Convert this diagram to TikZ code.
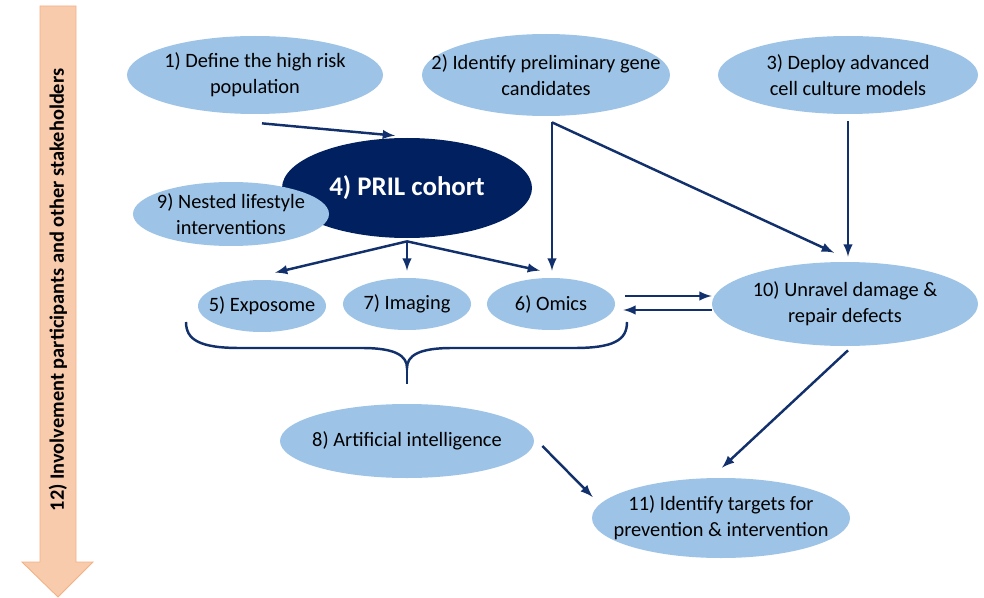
\documentclass[tikz,border=0pt]{standalone}
\usepackage{fontspec}
\setmainfont{Carlito}
\usepackage{xcolor}
\usepackage{tikz}
\usetikzlibrary{shapes.geometric}

\definecolor{blobblue}{HTML}{9DC3E6}
\definecolor{navy}{HTML}{002060}
\definecolor{linkblue}{HTML}{12306B}
\definecolor{peach}{HTML}{F8CBAD}
\definecolor{peachline}{HTML}{F4B183}
\newcommand{\bodysize}{\fontsize{11.6}{14.8}\selectfont}

\begin{document}
\begin{tikzpicture}[x=0.02cm, y=-0.02cm,
    blob/.style 2 args={ellipse, fill=blobblue, inner sep=0pt,
        minimum width=#1*0.02cm, minimum height=#2*0.02cm},
    txt/.style={align=center, font=\bodysize, text=black},
    link/.style={->, >=latex, line width=1.4pt, draw=linkblue}]
        \useasboundingbox (0,0) rectangle (984,598);

        % Stakeholder arrow
        \draw[fill=peach, draw=peachline, line width=0.5pt]
            (40,6) -- (76,6) -- (76,562) -- (93,562) -- (58,597) -- (22,562) -- (40,562) -- cycle;
        \node[rotate=90, font=\bfseries\bodysize] (stake) at (58,290)
            {12) Involvement participants and other stakeholders};

        % Top row
        \node[blob={256}{78}, label={[txt]center:{1) Define the high risk\\population}}] (n1) at (255,75) {};
        \node[blob={248}{82}, label={[txt]center:{2) Identify preliminary gene\\candidates}}] (n2) at (546,75) {};
        \node[blob={260}{78}, label={[txt]center:{3) Deploy advanced\\cell culture models}}] (n3) at (848,75) {};

        % Cohort
        \node[blob={250}{100}, fill=navy,
            label={[font=\fontsize{15.3}{18}\selectfont\bfseries, text=white]center:{4) PRIL cohort}}] (n4) at (407,188) {};
        \node[blob={196}{64}, label={[txt]center:{9) Nested lifestyle\\interventions}}] (n9) at (231,214) {};

        % Data streams
        \node[blob={128}{52}, label={[txt]center:{5) Exposome}}] (n5) at (262,306) {};
        \node[blob={128}{52}, label={[txt]center:{7) Imaging}}] (n7) at (407,304) {};
        \node[blob={128}{52}, label={[txt]center:{6) Omics}}] (n6) at (551,304) {};

        \node[blob={266}{84}, label={[txt]center:{10) Unravel damage \&\\repair defects}}] (n10) at (845,304) {};
        \node[blob={254}{74}, label={[txt]center:{8) Artificial intelligence}}] (n8) at (407,441) {};
        \node[blob={258}{80}, label={[txt]center:{11) Identify targets for\\prevention \& intervention}}] (n11) at (721,518) {};

        % Arrows into and out of the cohort
        \draw[link] ([shift={(7,9)}]n1.south) -- ([shift={(-12,-2)}]n4.north);
        \coordinate (fork) at ([shift={(0,3)}]n4.south);
        \foreach \t/\dx in {n5/13, n7/0, n6/-11} {
            \draw[link] (fork) -- ([shift={(\dx,-7)}]\t.north);
        }

        % Gene candidates and cell models
        \coordinate (split) at ([shift={(6,6)}]n2.south);
        \draw[link] (split) -- ([shift={(1,-7)}]n6.north);
        \draw[link] (split) -- ([shift={(-11,-9)}]n10.north);
        \draw[link] ([shift={(0,7)}]n3.south) -- ([shift={(3,-5)}]n10.north);

        % Omics <-> damage
        \draw[link] ([shift={(10,-8)}]n6.east) -- ([shift={(0,-8)}]n10.west);
        \draw[link] ([shift={(0,6)}]n10.west) -- ([shift={(8,6)}]n6.east);

        % Brace
        \coordinate (bl) at (186,322);
        \coordinate (br) at (627,322);
        \coordinate (btip) at (407,368);
        \draw[line width=1.4pt, draw=linkblue]
            (bl) .. controls (186,340) and (200,348) .. (240,348) -- (362,348)
            .. controls (396,348) and (407,356) .. (btip)
            .. controls (407,356) and (418,348) .. (452,348) -- (574,348)
            .. controls (614,348) and (627,340) .. (br);
        \draw[line width=1.4pt, draw=linkblue] (btip) -- ([shift={(0,-4)}]n8.north |- 0,388);

        % Towards targets
        \draw[link] ([shift={(3,4)}]n10.south) -- ([shift={(1,-10)}]n11.north);
        \draw[link] ([shift={(8,5)}]n8.east) -- ([shift={(1,-21)}]n11.west);
    \end{tikzpicture}
\end{document}
